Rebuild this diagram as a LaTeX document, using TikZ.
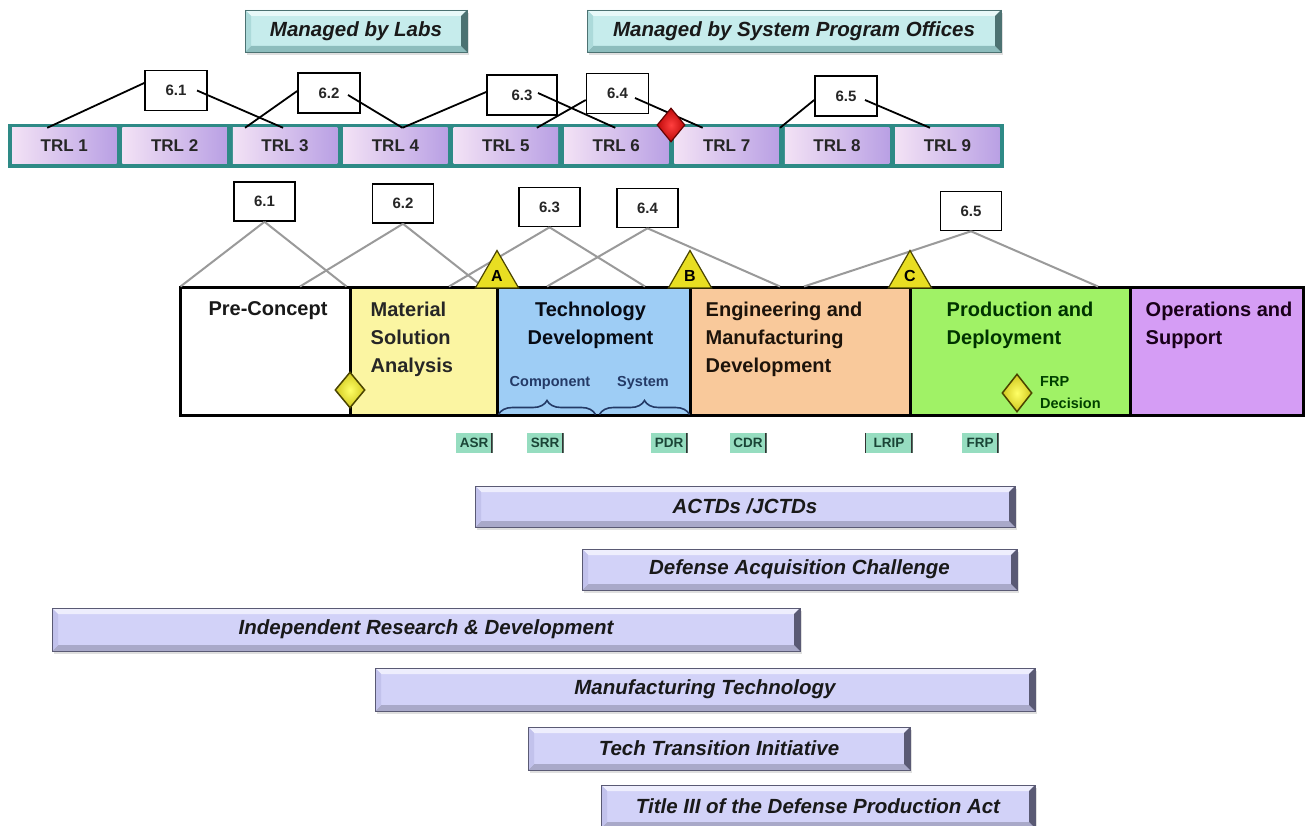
\documentclass[tikz,border=0pt]{standalone}
\usepackage{fontspec}
\setmainfont{Liberation Sans}
\usetikzlibrary{shapes.geometric,shadows,calc,decorations.pathreplacing}

\newcommand\myfs[2]{\fontsize{#1}{#2}\selectfont}

\definecolor{tealbar}{HTML}{2E8A86}
\definecolor{trlL}{HTML}{F3E2F5}
\definecolor{trlR}{HTML}{B9A0E4}
\definecolor{msaY}{HTML}{FBF5A2}
\definecolor{tdB}{HTML}{9ECDF5}
\definecolor{emdO}{HTML}{F9C99B}
\definecolor{pdG}{HTML}{A0F266}
\definecolor{osV}{HTML}{D59DF5}
\definecolor{revG}{HTML}{96DDC0}
\definecolor{revT}{HTML}{1A4436}
\definecolor{navy}{HTML}{243A66}
\definecolor{lav}{HTML}{D2D2F8}
\definecolor{lavT}{HTML}{EEEEFD}
\definecolor{lavB}{HTML}{A9A9C9}
\definecolor{lavL}{HTML}{C2C2EC}
\definecolor{lavR}{HTML}{5A5A74}
\definecolor{cy}{HTML}{C6ECEC}
\definecolor{cyT}{HTML}{E8F9F9}
\definecolor{cyB}{HTML}{8DBDBD}
\definecolor{cyL}{HTML}{ACDADA}
\definecolor{cyR}{HTML}{4C7272}
\definecolor{milY}{HTML}{E8DE22}
\definecolor{milD}{HTML}{4A4400}
\definecolor{gateR}{HTML}{E00A0A}
\definecolor{linkG}{HTML}{9A9A9A}

\tikzset{
  % bevelled, shadowed banner: face, top, bottom, left, right colours
  bevel/.style n args={5}{fill=#1, draw=#5, line width=0.6pt,
    drop shadow={shadow xshift=2pt, shadow yshift=-3pt, opacity=.25},
    path picture={
      \path (path picture bounding box.north west) coordinate (pNW)
            (path picture bounding box.north east) coordinate (pNE)
            (path picture bounding box.south west) coordinate (pSW)
            (path picture bounding box.south east) coordinate (pSE);
      \fill[#2] (pNW) -- (pNE) -- ([xshift=-6pt,yshift=-6pt]pNE) -- ([xshift=6pt,yshift=-6pt]pNW) -- cycle;
      \fill[#3] (pSW) -- (pSE) -- ([xshift=-6pt,yshift=6pt]pSE) -- ([xshift=6pt,yshift=6pt]pSW) -- cycle;
      \fill[#4] (pNW) -- ([xshift=6pt,yshift=-6pt]pNW) -- ([xshift=6pt,yshift=6pt]pSW) -- (pSW) -- cycle;
      \fill[#5] (pNE) -- ([xshift=-6pt,yshift=-6pt]pNE) -- ([xshift=-6pt,yshift=6pt]pSE) -- (pSE) -- cycle;
    }},
  managed/.style={bevel={cy}{cyT}{cyB}{cyL}{cyR}, minimum height=42, inner sep=0,
    font=\bfseries\itshape\myfs{20.5}{24}, text=black!90},
  program/.style={bevel={lav}{lavT}{lavB}{lavL}{lavR}, minimum height=42, inner sep=0,
    font=\bfseries\itshape\myfs{20.5}{24}, text=black!90},
  trlcell/.style={left color=trlL, right color=trlR, minimum width=104.5, minimum height=36,
    inner sep=0, font=\bfseries\myfs{17}{20}, text=black!85},
  numbox/.style={draw=black, line width=1.6pt, fill=white, minimum width=62, minimum height=40,
    inner sep=0, font=\bfseries\myfs{15}{18}, text=black!85},
  phase/.style={draw=black, line width=3pt, minimum height=127, inner sep=0},
  ptext/.style={font=\bfseries\myfs{20}{28}, inner sep=0, align=left},
  toplink/.style={draw=black, line width=1.8pt},
  sublink/.style={draw=linkG, line width=2pt},
  milestone/.style={regular polygon, regular polygon sides=3, minimum size=50, inner sep=0,
    fill=milY, draw=milD, line width=1.2pt, font=\bfseries\myfs{16}{18}},
  decision/.style={diamond, minimum width=30, minimum height=36, inner sep=0,
    inner color=yellow!60!white, outer color=milY!90!black, draw=milD, line width=1.5pt},
  review/.style={fill=revG, minimum width=37, minimum height=20, inner sep=1pt,
    font=\bfseries\myfs{13.5}{14}, text=revT,
    path picture={\draw[line width=3pt, black!80]
      (path picture bounding box.north east) -- (path picture bounding box.south east);}},
}

\begin{document}
\begin{tikzpicture}[x=1pt,y=-1pt]
\useasboundingbox[fill=white] (0,0) rectangle (1307,826);

% ---- management banners
\node[managed, minimum width=222] (labs) at (356,31) {Managed by Labs};
\node[managed, minimum width=414] (spo) at (794,31) {Managed by System Program Offices};

% ---- TRL scale
\node[fill=tealbar, minimum width=996, minimum height=44, inner sep=0] (bar) at (506,146) {};
\foreach \i in {1,...,9}
  \node[trlcell] (trl\i) at ({64.25+(\i-1)*110.4},146) {TRL \i};

% ---- section numbers above the TRL scale
\node[numbox] (t61) at (176,90.5) {6.1};
\node[numbox] (t62) at (329,93) {6.2};
\node[numbox, minimum width=70] (t63) at (522,95) {6.3};
\node[numbox] (t64) at (617.5,93.5) {6.4};
\node[numbox] (t65) at (846,96) {6.5};

\draw[toplink] ([yshift=7.5pt]t61.west) -- ([xshift=-17pt]trl1.north);
\draw[toplink] ([xshift=21pt]t61.center) -- ([xshift=-2pt]trl3.north);
\draw[toplink] ([yshift=2pt]t62.west) -- ([xshift=-40pt]trl3.north);
\draw[toplink] ([xshift=19pt,yshift=-2pt]t62.center) -- ([xshift=7pt]trl4.north);
\draw[toplink] ([yshift=3pt]t63.west) -- ([xshift=7pt]trl4.north);
\draw[toplink] ([xshift=16pt,yshift=2pt]t63.center) -- ([xshift=-1pt]trl6.north);
\draw[toplink] ([yshift=-6.5pt]t64.west) -- ([xshift=31pt]trl5.north);
\draw[toplink] ([xshift=17.5pt,yshift=-4.5pt]t64.center) -- ([xshift=-24pt]trl7.north);
\draw[toplink] ([yshift=-4pt]t65.west) -- ([xshift=-57pt]trl8.north);
\draw[toplink] ([xshift=19pt,yshift=-4pt]t65.center) -- ([xshift=-17.5pt]trl9.north);

% transition gate between TRL 6 and TRL 7
\node[diamond, minimum width=28, minimum height=34, inner sep=0,
      inner color=red!75!white, outer color=gateR!85!black, draw=gateR!45!black, line width=1.2pt]
      (gate) at (671,125) {};

% ---- acquisition phases
\node[phase, fill=white, minimum width=170] (pc) at (265,351.5) {};
\node[phase, fill=msaY, minimum width=147] (msa) at (423.5,351.5) {};
\node[phase, fill=tdB, minimum width=193] (td) at (593.5,351.5) {};
\node[phase, fill=emdO, minimum width=220] (emd) at (800,351.5) {};
\node[phase, fill=pdG, minimum width=220] (pd) at (1020,351.5) {};
\node[phase, fill=osV, minimum width=173] (os) at (1216.5,351.5) {};

\node[ptext, anchor=north, text=black!90] (pct) at ([xshift=3pt,yshift=-15pt]pc.north) {Pre-Concept};
\node[ptext, anchor=north west, text=black!85] (msat) at ([xshift=22pt,yshift=-15pt]msa.north west) {Material\\Solution\\Analysis};
\node[ptext, anchor=north, align=center, text=black!80!navy] (tdt) at ([xshift=-3pt,yshift=-15pt]td.north) {Technology\\Development};
\node[ptext, anchor=north west, text=black!85!brown] (emdt) at ([xshift=17pt,yshift=-15pt]emd.north west) {Engineering and\\Manufacturing\\Development};
\node[ptext, anchor=north west, text=black!80!green] (pdt) at ([xshift=38pt,yshift=-15pt]pd.north west) {Production and\\Deployment};
\node[ptext, anchor=north west, text=black!80!violet] (ost) at ([xshift=17pt,yshift=-15pt]os.north west) {Operations and\\Support};

% technology development sub-phases
\node[anchor=base, inner sep=0, font=\bfseries\myfs{14.5}{16}, text=navy] (cmp) at (550,387) {Component};
\node[anchor=base, inner sep=0, font=\bfseries\myfs{14.5}{16}, text=navy] (sys) at (643,387) {System};
\draw[navy, line width=1.6pt, decorate, decoration={brace, amplitude=14pt}]
  ([xshift=3pt,yshift=2pt]td.south west) -- ([xshift=100pt,yshift=2pt]td.south west);
\draw[navy, line width=1.6pt, decorate, decoration={brace, amplitude=14pt}]
  ([xshift=104pt,yshift=2pt]td.south west) -- ([xshift=-2pt,yshift=2pt]td.south east);

% decision points
\node[decision] (mdd) at (350,390) {};
\node[decision, minimum height=38] (frpd) at (1017,393) {};
\node[anchor=north west, inner sep=0, align=left, font=\bfseries\myfs{14.5}{22}, text=black!75!green]
  (frpt) at (1040,376) {FRP\\Decision};

% ---- section numbers above the phases
\node[numbox, minimum width=61, minimum height=39] (b61) at (264.5,201.5) {6.1};
\node[numbox, minimum width=61, minimum height=39] (b62) at (403,203.5) {6.2};
\node[numbox, minimum width=61, minimum height=39] (b63) at (549.5,207) {6.3};
\node[numbox, minimum width=61, minimum height=39] (b64) at (647.5,208) {6.4};
\node[numbox, minimum width=61, minimum height=39] (b65) at (971,211) {6.5};

\draw[sublink] (b61.south) -- ([xshift=2pt]pc.north west);
\draw[sublink] (b61.south) -- ([xshift=-5pt]pc.north east);
\draw[sublink] (b62.south) -- ([xshift=35pt]pc.north);
\draw[sublink] (b62.south) -- ([xshift=-16pt]msa.north east);
\draw[sublink] (b63.south) -- ([xshift=25.5pt]msa.north);
\draw[sublink] (b63.south) -- ([xshift=51.5pt]td.north);
\draw[sublink] (b64.south) -- ([xshift=-46.5pt]td.north);
\draw[sublink] (b64.south) -- ([xshift=-20pt]emd.north);
\draw[sublink] (b65.south) -- ([xshift=4pt]emd.north);
\draw[sublink] (b65.south) -- ([xshift=78pt]pd.north);

% milestones A, B, C
\node[milestone] (msA) at (497,275.5) {A};
\node[milestone] (msB) at (690,275.5) {B};
\node[milestone] (msC) at (910,275.5) {C};

% ---- technical reviews
\node[review] (asr) at (474,443) {ASR};
\node[review] (srr) at (545,443) {SRR};
\node[review] (pdr) at (669,443) {PDR};
\node[review] (cdr) at (748,443) {CDR};
\node[review, minimum width=47] (lrip) at (889,443) {LRIP};
\draw[line width=1.5pt, black!80] (lrip.north west) -- (lrip.south west);
\node[review] (frp) at (980,443) {FRP};

% ---- transition programs
\node[program, minimum width=540, minimum height=41] (actd) at (745,506.5) {ACTDs /JCTDs};
\node[program, minimum width=435, minimum height=41] (dac) at (799.5,569.5) {Defense Acquisition Challenge};
\node[program, minimum width=748, minimum height=43] (ird) at (426,629.5) {Independent Research \& Development};
\node[program, minimum width=660, minimum height=43] (mt) at (705,689.5) {Manufacturing Technology};
\node[program, minimum width=382, minimum height=43] (tti) at (719,748.5) {Tech Transition Initiative};
\node[program, minimum width=434, minimum height=43] (t3) at (818,806.5) {Title III of the Defense Production Act};
\end{tikzpicture}
\end{document}
